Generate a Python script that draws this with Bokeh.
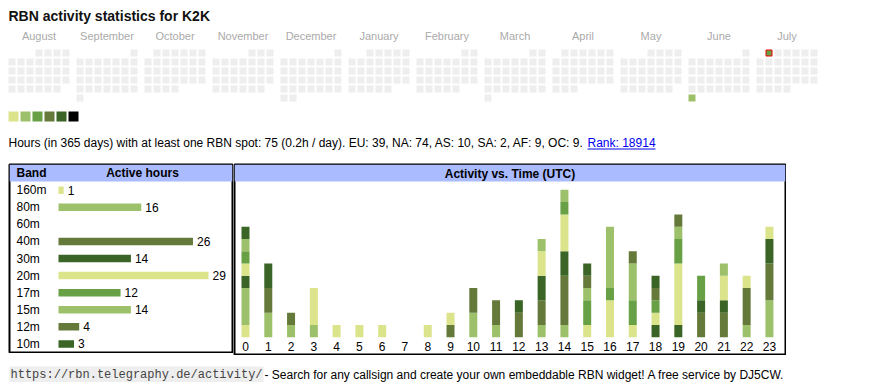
import calendar
from bokeh.plotting import figure
from bokeh.models import Range1d, FactorRange, ColumnDataSource
from bokeh.layouts import column, row
from bokeh.embed import file_html
from bokeh.resources import INLINE
from bokeh.core.properties import value

FONT = "Liberation Sans"
MONO = "Liberation Mono"

# ---------------- data ----------------
title_text = "RBN activity statistics for K2K"
month_names = ["August", "September", "October", "November", "December", "January",
               "February", "March", "April", "May", "June", "July"]
month_years = [2024, 2024, 2024, 2024, 2024, 2025, 2025, 2025, 2025, 2025, 2025, 2025]
month_numbers = [8, 9, 10, 11, 12, 1, 2, 3, 4, 5, 6, 7]
palette = ["#dbe38b", "#9dc16a", "#68a046", "#657a3a", "#3a6526", "#000000"]
active_days = ["2025-06-30", "2025-07-01"]
active_levels = [2, 3]
today = "2025-07-01"
summary_text = ("Hours (in 365 days) with at least one RBN spot: 75 (0.2h / day). "
                "EU: 39, NA: 74, AS: 10, SA: 2, AF: 9, OC: 9.")
rank_text = "Rank: 18914"

bands = ["160m", "80m", "60m", "40m", "30m", "20m", "17m", "15m", "12m", "10m"]
band_hours = [1, 16, 0, 26, 14, 29, 12, 14, 4, 3]
band_colors = ["#dbe38b", "#9dc16a", "#68a046", "#657a3a", "#3a6526",
               "#dbe38b", "#68a046", "#9dc16a", "#657a3a", "#3a6526"]

hours = list(range(24))
hourly = {
    "160m": [1, 0, 0, 0, 0, 0, 0, 0, 0, 0, 0, 0, 0, 0, 0, 0, 0, 0, 0, 0, 0, 0, 0, 0],
    "80m":  [3, 2, 1, 1, 0, 0, 0, 0, 0, 0, 2, 1, 0, 1, 1, 0, 0, 0, 0, 0, 0, 0, 1, 3],
    "60m":  [0, 0, 0, 0, 0, 0, 0, 0, 0, 0, 0, 0, 0, 0, 0, 0, 0, 0, 0, 0, 0, 0, 0, 0],
    "40m":  [0, 2, 1, 0, 0, 0, 0, 0, 0, 1, 2, 2, 2, 2, 4, 0, 0, 0, 0, 0, 2, 2, 3, 3],
    "30m":  [1, 2, 0, 0, 0, 0, 0, 0, 0, 0, 0, 0, 1, 2, 2, 0, 0, 0, 1, 1, 1, 1, 0, 2],
    "20m":  [1, 0, 0, 3, 1, 1, 1, 0, 1, 1, 0, 0, 0, 2, 3, 1, 3, 1, 1, 5, 0, 2, 1, 1],
    "17m":  [1, 0, 0, 0, 0, 0, 0, 0, 0, 0, 0, 0, 0, 0, 1, 2, 1, 2, 1, 2, 2, 0, 0, 0],
    "15m":  [1, 0, 0, 0, 0, 0, 0, 0, 0, 0, 0, 0, 0, 1, 1, 1, 5, 3, 0, 1, 0, 1, 0, 0],
    "12m":  [0, 0, 0, 0, 0, 0, 0, 0, 0, 0, 0, 0, 0, 0, 0, 1, 0, 1, 1, 1, 0, 0, 0, 0],
    "10m":  [1, 0, 0, 0, 0, 0, 0, 0, 0, 0, 0, 0, 0, 0, 0, 1, 0, 0, 1, 0, 0, 0, 0, 0],
}
footer_url = "https://rbn.telegraphy.de/activity/"
footer_text = "- Search for any callsign and create your own embeddable RBN widget! A free service by DJ5CW."

# ---------------- layout constants (pixels) ----------------
MARGIN = 8
PAGE_W = 870
CAL_H = 163
CELL = 7
CELL_PITCH = 9
MONTH_PITCH = 68
GRID_TOP = 41
EMPTY = "#eeeeee"
HEADER_BG = "#aabbff"


def base_fig(w, h, xr, yr, left=0, right=0, top=0, bottom=0):
    p = figure(width=w, height=h, x_range=xr, y_range=yr, output_backend="svg",
               toolbar_location=None, min_border=0, min_border_left=left,
               min_border_right=right, min_border_top=top, min_border_bottom=bottom)
    p.axis.visible = False
    p.grid.visible = False
    p.background_fill_color = "white"
    p.border_fill_color = "white"
    p.outline_line_color = None
    return p


# ---------------- calendar ----------------
cf = base_fig(PAGE_W, CAL_H, Range1d(-MARGIN, PAGE_W - MARGIN),
              Range1d(CAL_H - MARGIN, -MARGIN))
cf.text(x=[0], y=[7.5], text=[title_text], text_font=value(FONT), text_font_size="14px",
        text_font_style="bold", text_color="#111111", text_baseline="middle")

lvl_of = dict(zip(active_days, active_levels))
cx, cy, cc = [], [], []
hx, hy, hc = [], [], []
for mi, (yr, mo) in enumerate(zip(month_years, month_numbers)):
    first_wd, ndays = calendar.monthrange(yr, mo)
    for d in range(1, ndays + 1):
        idx = first_wd + d - 1
        col, rw = idx % 7, idx // 7
        key = f"{yr:04d}-{mo:02d}-{d:02d}"
        x = MONTH_PITCH * mi + CELL_PITCH * col + CELL / 2
        y = GRID_TOP + CELL_PITCH * rw + CELL / 2
        color = palette[lvl_of[key] - 1] if key in lvl_of else EMPTY
        if key == today:
            hx.append(x); hy.append(y); hc.append(color)
        else:
            cx.append(x); cy.append(y); cc.append(color)
cf.rect(x=cx, y=cy, width=CELL, height=CELL, fill_color=cc, line_color=None)
cf.rect(x=hx, y=hy, width=CELL - 1, height=CELL - 1, fill_color=hc, line_color="#ee0000",
        line_width=1)
label_x = [MONTH_PITCH * i + (6 * CELL_PITCH + CELL) / 2 for i in range(len(month_names))]
cf.text(x=label_x, y=[27.3] * len(month_names), text=month_names, text_font=value(FONT),
        text_font_size="11px", text_color="#aaaaaa", text_align="center",
        text_baseline="middle")
cf.rect(x=[12 * i + 5 for i in range(len(palette))], y=[108] * len(palette), width=10,
        height=10, fill_color=palette, line_color=None)
cf.text(x=[0], y=[134.8], text=[summary_text], text_font=value(FONT), text_font_size="12px",
        text_color="#000000", text_baseline="middle")
cf.text(x=[579], y=[134.8], text=[rank_text], text_font=value(FONT), text_font_size="12px",
        text_color="#0000ee", text_baseline="middle")
cf.segment(x0=[579], y0=[140.5], x1=[647], y1=[140.5], line_color="#0000ee", line_width=1)

# ---------------- band table ----------------
BAR0 = 58.0      # page x where bars start
PX_PER_H = 5.172
bx0 = (9 - BAR0) / PX_PER_H
bx1 = (232 - BAR0) / PX_PER_H
factors = list(reversed(["header"] + bands))
bf = base_fig(233, 190, Range1d(bx0, bx1), FactorRange(factors=factors),
              left=9, right=1, top=1, bottom=1)
bf.outline_line_color = "black"
bf.outline_line_width = 2
bf.hbar(y=["header"], left=[bx0], right=[bx1], height=1, fill_color=HEADER_BG, line_color=None)
lab_x = (16 - BAR0) / PX_PER_H
bf.text(x=[lab_x], y=["header"], text=["Band"], text_font=value(FONT), text_font_size="12px",
        text_font_style="bold", text_baseline="middle")
bf.text(x=[(142 - BAR0) / PX_PER_H], y=["header"], text=["Active hours"], text_font=value(FONT),
        text_font_size="12px", text_font_style="bold", text_baseline="middle",
        text_align="center")
bsrc = ColumnDataSource(dict(band=bands, hrs=band_hours, color=band_colors,
                             lab=[str(v) if v > 0 else "" for v in band_hours],
                             labx=[v + 4 / PX_PER_H for v in band_hours]))
bf.hbar(y="band", left=0, right="hrs", height=0.44, fill_color="color", line_color=None,
        source=bsrc)
bf.text(x=lab_x, y="band", text="band", text_font=value(FONT), text_font_size="12px",
        text_baseline="middle", source=bsrc)
bf.text(x="labx", y="band", text="lab", text_font=value(FONT), text_font_size="12px",
        text_baseline="middle", source=bsrc)

# ---------------- activity vs time ----------------
H0_PX, H_PITCH = 245.0, 22.78
BASE_PX, PX_PER_U = 336.7, 12.28
hx0 = (234 - H0_PX) / H_PITCH
hx1 = (785 - H0_PX) / H_PITCH
hy0 = (BASE_PX - 354) / PX_PER_U
hy1 = (BASE_PX - 164) / PX_PER_U
hf = base_fig(553, 192, Range1d(hx0, hx1), Range1d(hy0, hy1), left=1, right=1, top=1, bottom=1)
hf.outline_line_color = "black"
hf.outline_line_width = 2
hf.quad(left=[hx0], right=[hx1], bottom=[(BASE_PX - 181) / PX_PER_U], top=[hy1],
        fill_color=HEADER_BG, line_color=None)
hf.text(x=[(hx0 + hx1) / 2], y=[(BASE_PX - 173) / PX_PER_U], text=["Activity vs. Time (UTC)"],
        text_font=value(FONT), text_font_size="12px", text_font_style="bold",
        text_align="center", text_baseline="middle")
hdata = dict(hour=hours)
hdata.update(hourly)
hsrc = ColumnDataSource(hdata)
hf.vbar_stack(bands, x="hour", width=8 / H_PITCH, color=band_colors, line_color=None,
              source=hsrc)
hf.text(x=hours, y=[(BASE_PX - 345.5) / PX_PER_U] * len(hours), text=[str(h) for h in hours],
        text_font=value(FONT), text_font_size="12px", text_align="center",
        text_baseline="middle")

# ---------------- footer ----------------
ff = base_fig(PAGE_W, 27, Range1d(-MARGIN, PAGE_W - MARGIN), Range1d(27, 0))
ff.text(x=[1], y=[19], text=[footer_url], text_font=value(MONO), text_font_size="12px",
        text_color="#444444", text_baseline="middle", background_fill_color="#eeeeee",
        padding=1)
ff.text(x=[256], y=[19], text=[footer_text], text_font=value(FONT), text_font_size="12px",
        text_color="#000000", text_baseline="middle")

layout = column(cf, row(bf, hf), ff)
open("out.html", "w").write(file_html(layout, INLINE))
